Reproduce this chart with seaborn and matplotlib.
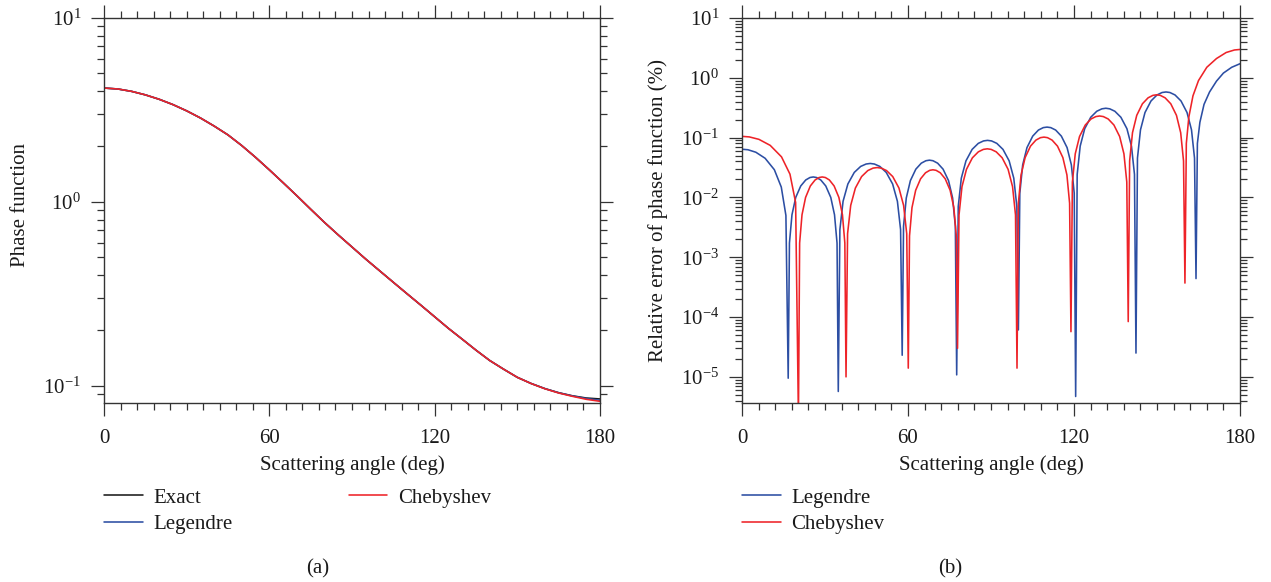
import numpy as np
import pandas as pd
import matplotlib
matplotlib.use("Agg")
import matplotlib.pyplot as plt
import seaborn as sns
from matplotlib.ticker import LogLocator, MultipleLocator, NullFormatter

# ---------------- data ----------------
# panel (a): phase function
theta_pf = [0, 5, 10, 15, 20, 25, 30, 35, 40, 45, 50, 55, 60, 65, 70, 75, 80, 85, 90,
            95, 100, 105, 110, 115, 120, 125, 130, 135, 140, 145, 150, 155, 160, 165,
            170, 175, 180]
pf_exact = [4.159, 4.111, 3.990, 3.819, 3.614, 3.381, 3.126, 2.858, 2.582, 2.312, 2.023,
            1.746, 1.493, 1.271, 1.079, 0.912, 0.773, 0.661, 0.568, 0.488, 0.422, 0.365,
            0.316, 0.274, 0.237, 0.205, 0.179, 0.156, 0.137, 0.123, 0.111, 0.1028,
            0.0964, 0.0916, 0.0881, 0.0857, 0.0847]
pf_legendre = [4.159, 4.111, 3.990, 3.819, 3.614, 3.381, 3.126, 2.858, 2.582, 2.312, 2.023,
               1.746, 1.493, 1.271, 1.079, 0.912, 0.773, 0.661, 0.568, 0.488, 0.422, 0.365,
               0.316, 0.274, 0.237, 0.205, 0.179, 0.156, 0.137, 0.123, 0.111, 0.1028,
               0.0964, 0.0915, 0.0879, 0.0852, 0.0833]
pf_chebyshev = [4.159, 4.111, 3.990, 3.819, 3.614, 3.381, 3.126, 2.858, 2.582, 2.312, 2.023,
                1.746, 1.493, 1.271, 1.079, 0.912, 0.773, 0.661, 0.568, 0.488, 0.422, 0.365,
                0.316, 0.274, 0.237, 0.205, 0.179, 0.156, 0.137, 0.123, 0.111, 0.1027,
                0.0962, 0.0912, 0.0875, 0.0843, 0.0822]

# panel (b): relative error of phase function (%)
leg_theta = [0, 2.17, 5.0, 8.35, 11.69, 14.2, 15.87, 16.7,
             17.15, 18.06, 19.42, 21.23, 23.04, 24.57, 25.75, 26.93, 28.47, 30.28, 32.09, 33.44, 34.35, 34.8,
             35.38, 36.53, 38.27, 40.58, 42.89, 44.85, 46.35, 47.85, 49.82, 52.13, 54.44, 56.17, 57.32, 57.9,
             58.39, 59.38, 60.86, 62.83, 64.8, 66.47, 67.75, 69.03, 70.71, 72.68, 74.65, 76.12, 77.11, 77.6,
             78.16, 79.27, 80.95, 83.18, 85.41, 87.3, 88.75, 90.2, 92.1, 94.33, 96.56, 98.23, 99.34, 99.9,
             100.42, 101.45, 103.0, 105.08, 107.15, 108.9, 110.25, 111.6, 113.36, 115.43, 117.5, 119.05, 120.08, 120.6,
             121.15, 122.24, 123.87, 126.05, 128.23, 130.08, 131.5, 132.92, 134.77, 136.95, 139.13, 140.77, 141.86, 142.4,
             142.94, 144.03, 145.66, 147.83, 150.0, 151.84, 153.25, 154.66, 156.51, 158.68, 160.85, 162.47, 163.56, 164.1,
             164.6, 165.5, 167.0, 169.0, 171.5, 174.0, 177.0, 180.0]
leg_err = [0.064, 0.0627, 0.0570, 0.0452, 0.0291, 0.0149, 0.0050, 9.5e-6,
           0.00173, 0.00513, 0.0100, 0.01555, 0.0196, 0.02154, 0.022, 0.02154, 0.0196, 0.01555, 0.0100, 0.00513, 0.00173, 5.7e-6,
           0.0029, 0.00862, 0.0168, 0.0262, 0.0330, 0.0362, 0.037, 0.0362, 0.0330, 0.0262, 0.0168, 0.00862, 0.0029, 2.3e-5,
           0.0033, 0.0098, 0.0191, 0.0297, 0.0374, 0.0411, 0.042, 0.0411, 0.0374, 0.0297, 0.0191, 0.0098, 0.0033, 1.08e-5,
           0.00707, 0.0210, 0.0409, 0.0636, 0.0802, 0.0881, 0.090, 0.0881, 0.0802, 0.0636, 0.0409, 0.0210, 0.00707, 6.1e-5,
           0.0118, 0.0350, 0.0681, 0.106, 0.134, 0.147, 0.150, 0.147, 0.134, 0.106, 0.0681, 0.0350, 0.0118, 4.7e-6,
           0.0243, 0.0722, 0.141, 0.219, 0.276, 0.303, 0.31, 0.303, 0.276, 0.219, 0.141, 0.0722, 0.0243, 2.5e-5,
           0.0455, 0.135, 0.263, 0.410, 0.517, 0.568, 0.58, 0.568, 0.517, 0.410, 0.263, 0.135, 0.0455, 4.4e-4,
           0.08, 0.18, 0.36, 0.58, 0.88, 1.20, 1.50, 1.72]

cheb_theta = [0, 2.65, 6.12, 10.2, 14.28, 17.34, 19.38, 20.4,
              20.83, 21.69, 22.98, 24.7, 26.42, 27.88, 29.0, 30.12, 31.58, 33.3, 35.02, 36.31, 37.17, 37.6,
              38.16, 39.29, 40.98, 43.23, 45.48, 47.39, 48.85, 50.31, 52.23, 54.48, 56.73, 58.41, 59.54, 60.1,
              60.55, 61.44, 62.77, 64.55, 66.33, 67.84, 69.0, 70.16, 71.67, 73.45, 75.23, 76.57, 77.46, 77.9,
              78.44, 79.51, 81.13, 83.28, 85.43, 87.25, 88.65, 90.05, 91.88, 94.03, 96.18, 97.79, 98.86, 99.4,
              99.89, 100.86, 102.33, 104.28, 106.23, 107.88, 109.15, 110.42, 112.08, 114.03, 115.98, 117.44, 118.41, 118.9,
              119.42, 120.45, 122.0, 124.08, 126.15, 127.9, 129.25, 130.6, 132.36, 134.43, 136.5, 138.05, 139.08, 139.6,
              140.11, 141.14, 142.68, 144.73, 146.78, 148.52, 149.85, 151.18, 152.93, 154.98, 157.03, 158.56, 159.59, 160.1,
              160.6, 161.5, 163.0, 165.0, 168.0, 171.5, 175.0, 178.0, 180.0]
cheb_err = [0.105, 0.1028, 0.0936, 0.0742, 0.0477, 0.0245, 0.00824, 2.0e-6,
            0.00173, 0.00513, 0.0100, 0.01555, 0.0196, 0.02154, 0.022, 0.02154, 0.0196, 0.01555, 0.0100, 0.00513, 0.00173, 1.0e-5,
            0.00248, 0.00736, 0.01435, 0.02234, 0.02816, 0.03094, 0.0316, 0.03094, 0.02816, 0.02234, 0.01435, 0.00736, 0.00248, 1.4e-5,
            0.00228, 0.00676, 0.01317, 0.0205, 0.02584, 0.02839, 0.029, 0.02839, 0.02584, 0.0205, 0.01317, 0.00676, 0.00228, 3.0e-5,
            0.0051, 0.01515, 0.0295, 0.0460, 0.0579, 0.0636, 0.065, 0.0636, 0.0579, 0.0460, 0.0295, 0.01515, 0.0051, 1.4e-5,
            0.0080, 0.0238, 0.0463, 0.0721, 0.0909, 0.0999, 0.102, 0.0999, 0.0909, 0.0721, 0.0463, 0.0238, 0.0080, 5.7e-5,
            0.0181, 0.0536, 0.1044, 0.1626, 0.205, 0.225, 0.23, 0.225, 0.205, 0.1626, 0.1044, 0.0536, 0.0181, 8.4e-5,
            0.0408, 0.121, 0.236, 0.368, 0.463, 0.509, 0.52, 0.509, 0.463, 0.368, 0.236, 0.121, 0.0408, 3.7e-4,
            0.08, 0.22, 0.50, 0.90, 1.50, 2.10, 2.65, 2.92, 2.98]

x_ticks = [0, 60, 120, 180]

# ---------------- style ----------------
sns.set_theme(style="ticks")
plt.rcParams.update({
    "font.family": ["Liberation Serif", "DejaVu Serif"],
    "mathtext.fontset": "custom",
    "mathtext.rm": "Liberation Serif",
    "mathtext.it": "Liberation Serif:italic",
    "mathtext.bf": "Liberation Serif:bold",
    "font.size": 14.5,
    "axes.edgecolor": "#333333",
    "axes.linewidth": 1.0,
    "xtick.color": "#333333",
    "ytick.color": "#333333",
    "text.color": "#1a1a1a",
    "axes.labelcolor": "#1a1a1a",
    "xtick.labelcolor": "#1a1a1a",
    "ytick.labelcolor": "#1a1a1a",
})

C_EXACT = "#1a1a1a"
C_LEG = "#2c4ea3"
C_CHEB = "#ee2328"
LW = 1.15

W, H = 1271, 582
fig = plt.figure(figsize=(W / 100, H / 100), dpi=100)
ax1 = fig.add_axes([104 / W, 1 - 403 / H, 496 / W, 385 / H])
ax2 = fig.add_axes([742 / W, 1 - 403 / H, 498 / W, 385 / H])

df_a = pd.DataFrame({"theta": theta_pf, "exact": pf_exact,
                     "legendre": pf_legendre, "chebyshev": pf_chebyshev})
sns.lineplot(data=df_a, x="theta", y="exact", ax=ax1, color=C_EXACT, lw=LW,
             label="Exact", estimator=None, sort=False)
sns.lineplot(data=df_a, x="theta", y="legendre", ax=ax1, color=C_LEG, lw=LW,
             label="Legendre", estimator=None, sort=False)
sns.lineplot(data=df_a, x="theta", y="chebyshev", ax=ax1, color=C_CHEB, lw=LW,
             label="Chebyshev", estimator=None, sort=False)

df_leg = pd.DataFrame({"theta": leg_theta, "err": leg_err})
df_cheb = pd.DataFrame({"theta": cheb_theta, "err": cheb_err})
sns.lineplot(data=df_leg, x="theta", y="err", ax=ax2, color=C_LEG, lw=LW,
             label="Legendre", estimator=None, sort=False)
sns.lineplot(data=df_cheb, x="theta", y="err", ax=ax2, color=C_CHEB, lw=LW,
             label="Chebyshev", estimator=None, sort=False)

for ax in (ax1, ax2):
    ax.set_yscale("log")
    ax.set_xlim(0, 180)
    ax.set_xticks(x_ticks)
    ax.xaxis.set_minor_locator(MultipleLocator(6))
    ax.yaxis.set_major_locator(LogLocator(base=10, numticks=20))
    ax.yaxis.set_minor_locator(LogLocator(base=10, subs=np.arange(2, 10), numticks=20))
    ax.yaxis.set_minor_formatter(NullFormatter())
    ax.tick_params(which="both", direction="out", top=True, right=True,
                   labeltop=False, labelright=False)
    ax.tick_params(which="major", length=9.5, width=0.9, pad=7, labelsize=15)
    ax.tick_params(axis="x", which="major", pad=9)
    ax.tick_params(which="minor", length=5, width=0.9)
    for s in ax.spines.values():
        s.set_visible(True)
    ax.set_xlabel("Scattering angle (deg)", fontsize=15, va="center", ha="center")
    ax.xaxis.set_label_coords(0.5, (403 - 465) / 385)

ax1.set_ylim(0.0805, 10)
ax2.set_ylim(3.66e-6, 10)

ax1.set_ylabel("Phase function", fontsize=15, va="center", ha="center")
ax1.yaxis.set_label_coords((20 - 104) / 496, (403 - 205) / 385)
ax2.set_ylabel("Relative error of phase function (%)", fontsize=15, va="center", ha="center")
ax2.yaxis.set_label_coords((658 - 742) / 498, 0.5)

leg_kw = dict(frameon=False, fontsize=15, handlelength=1.85, handletextpad=0.5,
              borderpad=0, borderaxespad=0, labelspacing=0.35, loc="upper left")
ax1.legend(ncol=2, columnspacing=5.6, bbox_to_anchor=(0, (403 - 488) / 385), **leg_kw)
ax2.legend(ncol=1, bbox_to_anchor=(0, (403 - 488) / 385), **leg_kw)

fig.text(318 / W, 1 - 569 / H, "(a)", ha="center", va="center", fontsize=15)
fig.text(950 / W, 1 - 569 / H, "(b)", ha="center", va="center", fontsize=15)

fig.savefig("out.png", dpi=100)
